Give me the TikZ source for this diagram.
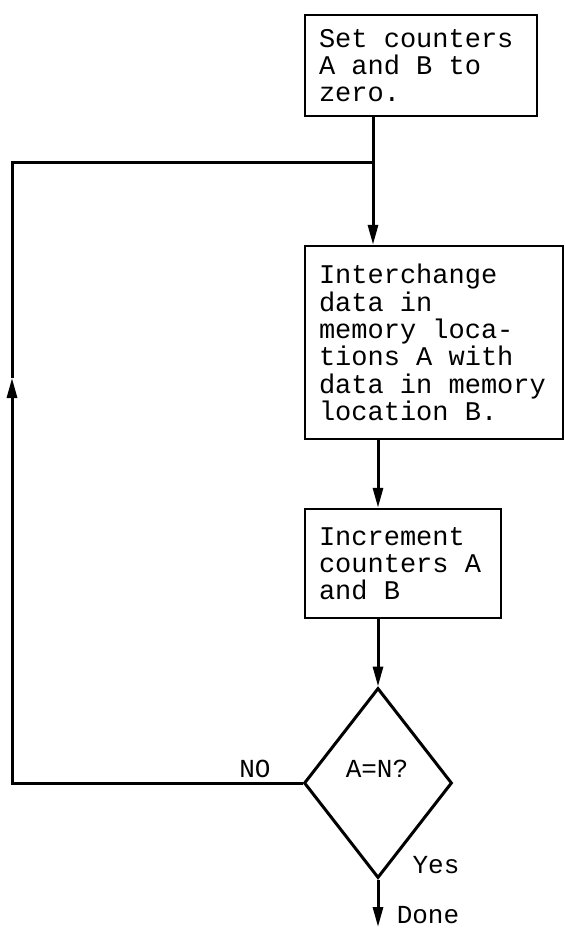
\documentclass[tikz,border=0pt]{standalone}
\usepackage{fontspec}
\setmonofont{Liberation Mono}
\usetikzlibrary{arrows.meta,shapes.geometric}
\begin{document}
\begin{tikzpicture}[x=1pt,y=1pt,
  font=\ttfamily\fontsize{27}{27.3}\selectfont,
  boxn/.style={draw, line width=2.4pt, align=left, inner xsep=14pt, inner ysep=0pt, anchor=center,
    execute at begin node={\spaceskip=16.2pt\relax}},
  conn/.style={line width=3pt},
  arr/.style={conn, -{Triangle[length=20pt,width=10pt]}},
  lbl/.style={font=\ttfamily\fontsize{26}{26}\selectfont, anchor=base, inner sep=0pt}]
\useasboundingbox (0,0) rectangle (565,-930);

\node[boxn, text width=204pt, minimum height=101pt] (b1) at (421,-65.5) {Set counters\\A and B to\\zero.};
\node[boxn, text width=230pt, minimum height=193pt] (b2) at (434,-342.5) {Interchange\\data in\\memory loca-\\tions A with\\data in memory\\location B.};
\node[boxn, text width=168pt, minimum height=109pt] (b3) at (403,-563.5) {Increment\\counters A\\and B};
\node[draw, diamond, line width=3pt, minimum width=148pt, minimum height=190pt, inner sep=0pt] (d) at (378,-783) {};

\node[lbl] (q) at (377,-777) {A=N?};
\node[lbl] (no) at (255,-777) {NO};
\node[lbl] (yes) at (436,-873) {Yes};
\node[lbl] (done) at (428,-923) {Done};

\coordinate (j) at (373,-162);
\coordinate (ma) at (12,-378);
\coordinate (e) at (378,-927);

\draw[conn] (b1.south -| j) -- (j);
\draw[arr] (j) -- (b2.north -| j);
\draw[arr] (b2.south -| d.north) -- (b3.north -| d.north);
\draw[arr] (b3.south -| d.north) -- (d.north);
\draw[arr] (d.west) -| (ma);
\draw[conn] (ma) |- (j);
\draw[arr] (d.south) -- (e);
\end{tikzpicture}
\end{document}
